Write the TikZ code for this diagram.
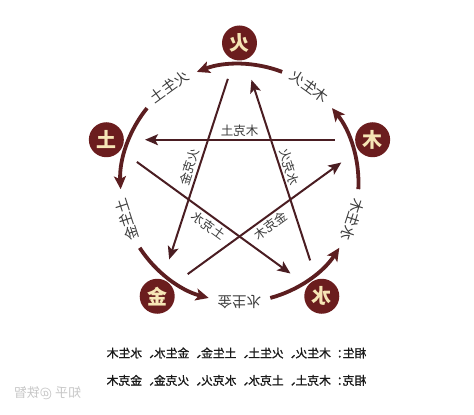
\documentclass[tikz,border=0pt]{standalone}
\usepackage{fontspec}
\newfontfamily\cjk{Noto Sans CJK SC}
\newfontfamily\cjkheavy[FakeBold=1.2]{Noto Sans CJK SC}
\usetikzlibrary{arrows.meta,positioning}
\definecolor{element red}{HTML}{6B1D1E}
\definecolor{cycle red}{HTML}{5C1E20}
\definecolor{star red}{HTML}{4A1D22}
\definecolor{label gray}{HTML}{3C3C3C}
\definecolor{element cream}{HTML}{F6E6B6}

\begin{document}
\begin{tikzpicture}[x=1pt, y=1pt, xscale=-1,
    every node/.append style={transform shape},
    element/.style={circle, fill=element red, minimum size=35pt, inner sep=0pt,
        text=element cream, font=\cjk\bfseries\fontsize{20}{20}\selectfont},
    generate/.style={cycle red, line width=3.8pt,
        -{Stealth[length=13pt, width=12pt, inset=3pt]}},
    generate label/.style={text=label gray, font=\cjk\fontsize{14.5}{15}\selectfont},
    overcome/.style={star red, line width=2pt, shorten <=20pt, shorten >=21pt,
        -{Stealth[length=13pt, width=11pt, inset=3pt]}},
    overcome label/.style={text=label gray, inner sep=2.5pt,
        font=\cjk\fontsize{12.5}{13}\selectfont},
    summary/.style={inner sep=0pt, text=black!90, font=\cjkheavy\fontsize{11.8}{12}\selectfont}
]
    \useasboundingbox (-234.5,-232) rectangle (239.5,183);

    \node[element] (fire)  at (90:140)  {火};
    \node[element] (earth) at (18:140)  {土};
    \node[element] (metal) at (-54:140) {金};
    \node[element] (water) at (234:140) {水};
    \node[element] (wood)  at (162:140) {木};

    \foreach \a in {90,18,-54,-126,162}
        \draw[generate] (\a+21:119) arc[start angle=\a+21, end angle=\a-21, radius=119pt];

    \foreach \a/\t [count=\i] in {126/木生火, 54/火生土, -18/土生金, -90/金生水, 198/水生木}
        \node[generate label, rotate=\a-90] (sheng \i) at (\a:119) {\t};

    \draw[overcome] (wood)  -- node[overcome label, anchor=south] (ke 1) {木克土} (earth);
    \draw[overcome] (earth) -- node[overcome label, rotate=36, anchor=north] (ke 2) {土克水} (water);
    \draw[overcome] (water) -- node[overcome label, rotate=72, anchor=south] (ke 3) {水克火} (fire);
    \draw[overcome] (fire)  -- node[overcome label, rotate=-72, anchor=south] (ke 4) {火克金} (metal);
    \draw[overcome] (metal) -- node[overcome label, rotate=-36, anchor=north] (ke 5) {金克木} (wood);

    \node[summary] (generating) at (3,-170) {相生：木生火、火生土、土生金、金生水、水生木};
    \node[summary, below=16pt of generating] (overcoming) {相克：木克土、土克水、水克火、火克金、金克木};
    \node[text=black!22, font=\cjk\fontsize{13}{13}\selectfont] (mark) at (192,-210) {知乎 @铁智};
\end{tikzpicture}
\end{document}
